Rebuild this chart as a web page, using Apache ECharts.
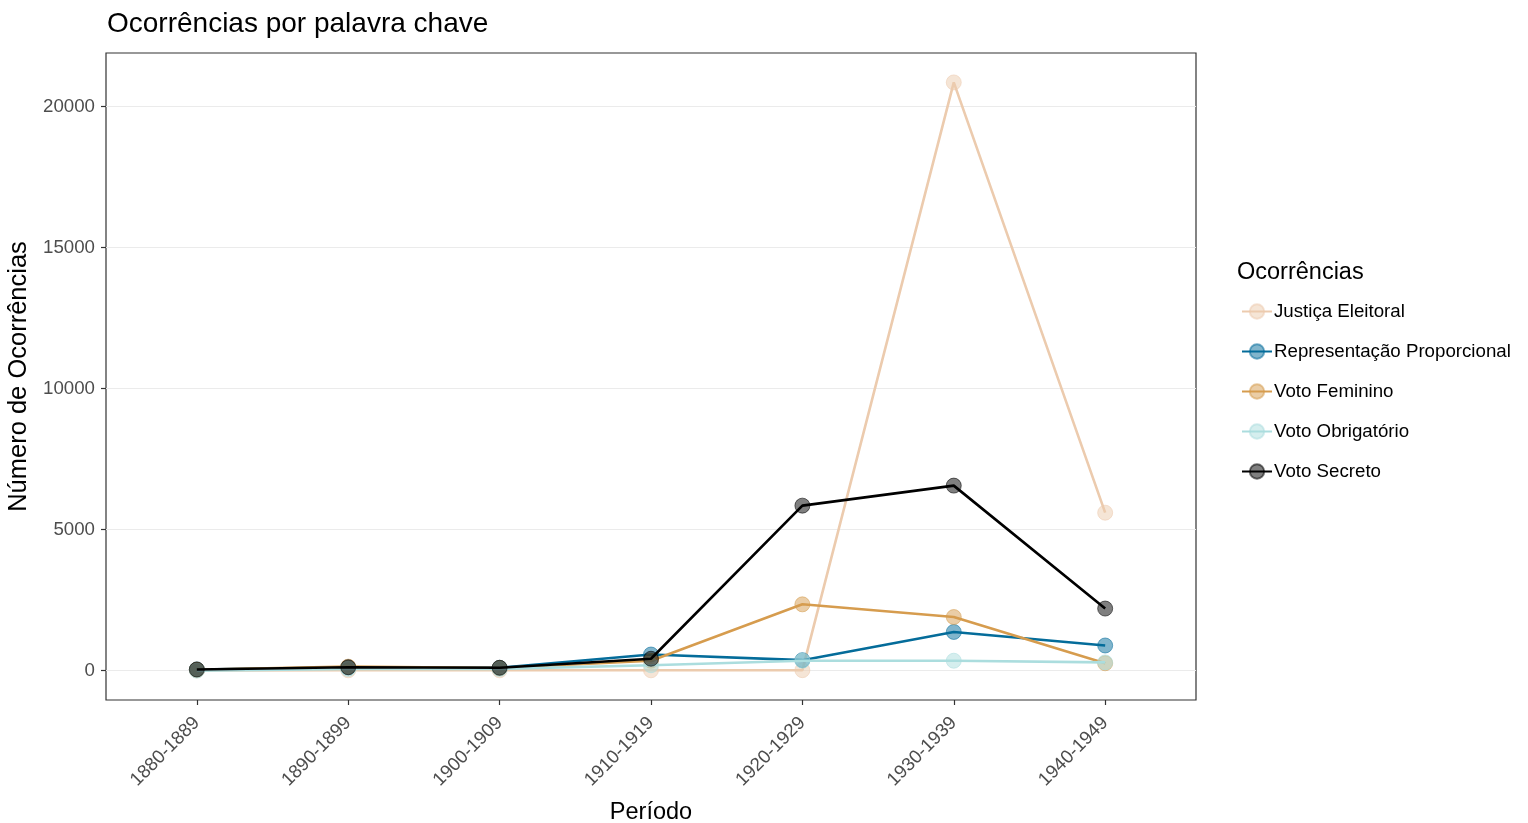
<!DOCTYPE html>
<html>
<head>
<meta charset="utf-8">
<script src="https://cdn.jsdelivr.net/npm/echarts@6/dist/echarts.min.js"></script>
<style>
html,body{margin:0;padding:0;background:#fff;}
#chart{width:1528px;height:823px;}
</style>
</head>
<body>
<div id="chart"></div>
<script>
const categories = ['1880-1889','1890-1899','1900-1909','1910-1919','1920-1929','1930-1939','1940-1949'];
const seriesNames = ['Justiça Eleitoral','Representação Proporcional','Voto Feminino','Voto Obrigatório','Voto Secreto'];
const justicaEleitoral = [5, 10, 10, 10, 15, 20860, 5600];
const representacaoProporcional = [40, 110, 100, 570, 370, 1370, 890];
const votoFeminino = [30, 140, 90, 350, 2350, 1900, 260];
const votoObrigatorio = [0, 60, 60, 190, 350, 350, 290];
const votoSecreto = [40, 120, 100, 420, 5850, 6560, 2200];
const yTicks = [0, 5000, 10000, 15000, 20000];
const colors = ['#ECCBAE','#046C9A','#D69C4E','#ABDDDE','#000000'];

const allValues = [justicaEleitoral, representacaoProporcional, votoFeminino, votoObrigatorio, votoSecreto];
const FONT = 'Liberation Sans, Arial, sans-serif';

function hexA(hex, a){
  const r=parseInt(hex.slice(1,3),16), g=parseInt(hex.slice(3,5),16), b=parseInt(hex.slice(5,7),16);
  return 'rgba('+r+','+g+','+b+','+a+')';
}

const flat = allValues.flat();
const dMin = Math.min.apply(null, flat), dMax = Math.max.apply(null, flat);
const pad = (dMax - dMin) * 0.05;

const series = allValues.map((vals, i) => ({
  name: seriesNames[i],
  type: 'line',
  data: vals.map((v, j) => [j, v]),
  symbol: 'circle',
  symbolSize: 15,
  lineStyle: { color: colors[i], width: 2.6 },
  itemStyle: { color: hexA(colors[i], 0.5), borderColor: hexA(colors[i], 0.55), borderWidth: 1 },
  emphasis: { disabled: true },
  z: 2 + i,
  animation: false
}));

const chart = echarts.init(document.getElementById('chart'));
chart.setOption({
  backgroundColor: '#ffffff',
  textStyle: { fontFamily: FONT },
  title: [
    { text: 'Ocorrências por palavra chave', left: 102, top: 5,
      textStyle: { fontSize: 28, fontWeight: 'normal', color: '#000', fontFamily: FONT } },
    { text: 'Ocorrências', left: 1232, top: 256,
      textStyle: { fontSize: 23.5, fontWeight: 'normal', color: '#000', fontFamily: FONT } }
  ],
  legend: {
    orient: 'vertical',
    left: 1236,
    top: 297,
    itemWidth: 30,
    itemHeight: 18,
    itemGap: 21,
    data: seriesNames,
    textStyle: { fontSize: 18.7, color: '#000', padding: [0,0,0,-3], fontFamily: FONT },
    selectedMode: false
  },
  grid: {
    left: 106, top: 53, right: 332, bottom: 123,
    outerBoundsMode: 'none',
    containLabel: false,
    show: true, borderColor: '#333333', borderWidth: 1.2, backgroundColor: '#fff'
  },
  xAxis: {
    type: 'value',
    min: -0.6, max: categories.length - 1 + 0.6,
    name: 'Período',
    nameLocation: 'middle',
    nameGap: 101,
    nameTextStyle: { fontSize: 23.5, color: '#000', fontFamily: FONT },
    axisLine: { show: false, onZero: false },
    splitLine: { show: false },
    axisTick: { show: true, length: 5, lineStyle: { color: '#333', width: 1.2 }, customValues: categories.map((c, i) => i) },
    axisLabel: {
      rotate: 45, fontSize: 18.7, color: '#4d4d4d', margin: 20,
      customValues: categories.map((c, i) => i),
      formatter: v => categories[Math.round(v)]
    }
  },
  yAxis: {
    type: 'value',
    min: dMin - pad, max: dMax + pad,
    name: 'Número de Ocorrências',
    nameLocation: 'middle',
    nameGap: 71,
    nameTextStyle: { fontSize: 25.5, color: '#000', fontFamily: FONT },
    axisLine: { show: false, onZero: false },
    splitLine: { show: true, lineStyle: { color: '#ebebeb', width: 1.2 } },
    axisTick: { show: true, length: 5, lineStyle: { color: '#333', width: 1.2 }, customValues: yTicks },
    axisLabel: { fontSize: 18.7, color: '#4d4d4d', margin: 11, customValues: yTicks, formatter: v => String(v) }
  },
  series: series
});
</script>
</body>
</html>
